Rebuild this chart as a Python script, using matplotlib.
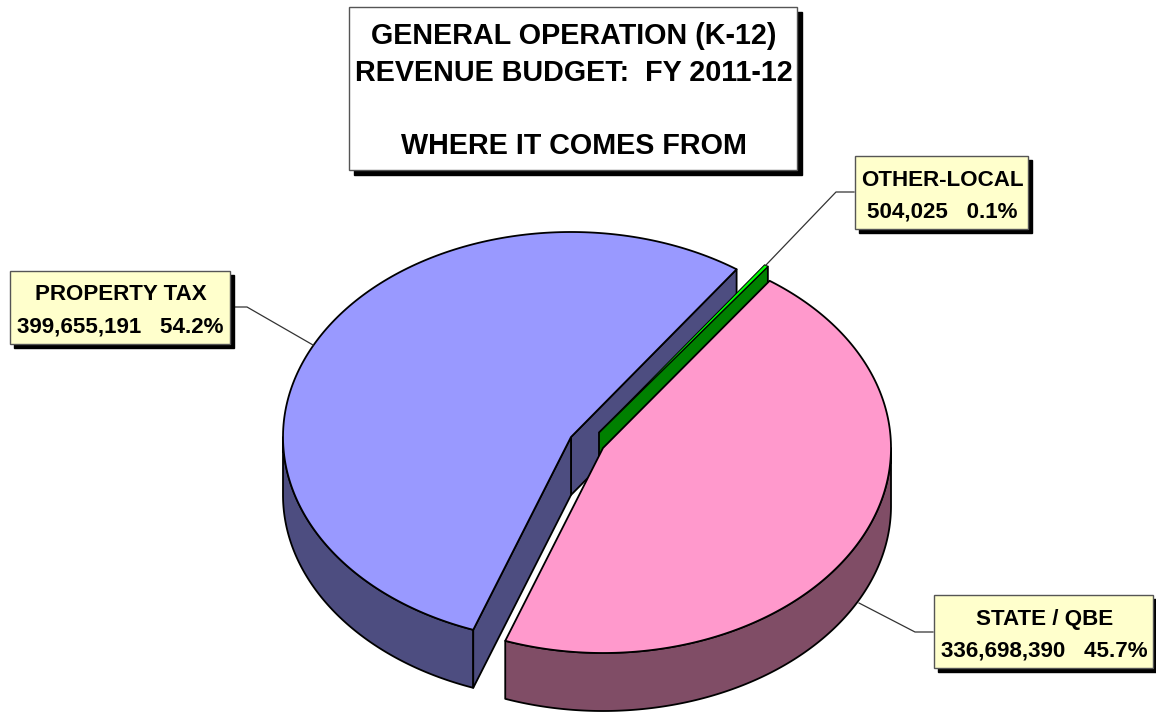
import numpy as np
import matplotlib
matplotlib.use("Agg")
import matplotlib.pyplot as plt
from matplotlib.patches import Polygon, Rectangle

# data
labels = ["PROPERTY TAX", "OTHER-LOCAL", "STATE / QBE"]
values = np.array([399655191, 504025, 336698390])
title_lines = "GENERAL OPERATION (K-12)\nREVENUE BUDGET:  FY 2011-12\n\nWHERE IT COMES FROM"

# colours for each slice: top, wall
top_colors = ["#9999FF", "#00FF00", "#FF99CC"]
wall_colors = ["#4D4D80", "#008000", "#804D66"]

# pie geometry in pixels
A = 288
B = 205
DEPTH = 58
START = 54.9  # angle where the property slice begins, goes counter clockwise
centers = [(571, 437), (599, 432.5), (603, 448)]

plt.rcParams["font.family"] = ["Liberation Sans", "DejaVu Sans"]

fig = plt.figure(figsize=(11.56, 7.12), dpi=100)
ax = fig.add_axes([0, 0, 1, 1])
ax.set_xlim(0, 1156)
ax.set_ylim(712, 0)
ax.axis("off")


def arc(c, a0, a1, drop=0):
    t = np.radians(np.linspace(a0, a1, 200))
    return np.column_stack([c[0] + A * np.cos(t), c[1] - B * np.sin(t) + drop])


def poly(pts, color, z, lw=1.3):
    ax.add_patch(Polygon(pts, closed=True, facecolor=color, edgecolor="black",
                         linewidth=lw, joinstyle="round", zorder=z))


# slice angles from the values (other-local runs clockwise from the start)
spans = values / values.sum() * 360
p0, p1 = START, START + spans[0]
o1, o0 = START, START - max(spans[1], 0.8)
s1, s0 = START - spans[1], START - spans[1] - spans[2]

# property tax
c = centers[0]
down = np.array([0, DEPTH])
apex = np.array(c, dtype=float)
end_a = arc(c, p0, p0)[0]
end_b = arc(c, p1, p1)[0]
poly([apex, end_a, end_a + down, apex + down], wall_colors[0], 1)
front = arc(c, 180, p1)
poly(np.vstack([front, (front + down)[::-1]]), wall_colors[0], 2)
poly([apex, end_b, end_b + down, apex + down], wall_colors[0], 3)
poly(np.vstack([[apex], arc(c, p0, p1)]), top_colors[0], 4)

# other-local
c = centers[1]
apex = np.array(c, dtype=float)
end_a = arc(c, o1, o1)[0]
end_b = arc(c, o0, o0)[0]
poly([apex, end_b, end_b + down, apex + down], wall_colors[1], 5)
poly([apex, end_a, end_b], top_colors[1], 6, lw=0.7)

# state / qbe
c = centers[2]
apex = np.array(c, dtype=float)
front = arc(c, s0 + 360, 360)
poly(np.vstack([front, (front + down)[::-1]]), wall_colors[2], 7)
poly(np.vstack([[apex], arc(c, s0, s1)]), top_colors[2], 8)


def box(x0, y0, x1, y1, color, shadow, lw=1.0):
    ax.add_patch(Rectangle((x0 + shadow, y0 + shadow), x1 - x0, y1 - y0,
                           facecolor="black", edgecolor="black", zorder=10))
    ax.add_patch(Rectangle((x0, y0), x1 - x0, y1 - y0, facecolor=color,
                           edgecolor="#555555", linewidth=lw, zorder=11))


# title box
box(348.5, 6.5, 796.5, 170, "white", 5)
ax.text(574, 91, title_lines, ha="center", va="center", fontsize=20.7,
        fontweight="bold", linespacing=1.395, zorder=12)

# callouts: box, then the leader line
boxes = [(9.5, 270.5, 229.5, 344), (854.5, 156, 1028, 229), (933.5, 595, 1153, 668)]
leaders = [[(230, 307), (247, 307), (313, 345)],
           [(854, 192), (836, 192), (766, 265)],
           [(933, 632), (915, 632), (859, 603)]]
pct = values / values.sum() * 100
for name, val, p, b, line in zip(labels, values, pct, boxes, leaders):
    box(*b, "#FFFFCC", 4)
    xs, ys = zip(*line)
    ax.plot(xs, ys, color="#333333", linewidth=0.9, zorder=9)
    ax.text((b[0] + b[2]) / 2 + 1, (b[1] + b[3]) / 2 + 3.5, f"{name}\n{val:,}   {p:.1f}%",
            ha="center", va="center", fontsize=16.1, fontweight="bold",
            linespacing=1.66, zorder=12)

fig.savefig("out.png", dpi=100, facecolor="white")
